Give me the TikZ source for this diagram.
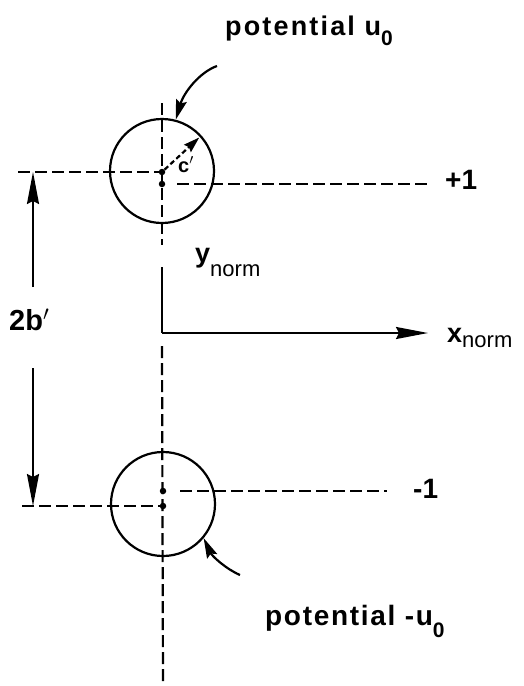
\documentclass[tikz,border=0pt]{standalone}
\usepackage{fontspec}
\setmainfont{Liberation Sans}
\usepackage{tikz}
\usetikzlibrary{arrows.meta}

\newcommand{\lowered}[3]{\raisebox{-#1pt}{\fontsize{#2}{#2}\selectfont #3}}

\begin{document}
\begin{tikzpicture}[x=1pt, y=-1pt,
    wire/.style={draw, circle, line width=2.2pt, minimum size=104pt, inner sep=0pt},
    guide/.style={line width=2.2pt, dash pattern=on 12pt off 5pt},
    axis/.style={line width=2.2pt},
    longarr/.style={-{Stealth[length=32pt,width=12pt,inset=3pt]}, line width=2pt},
    ptrarr/.style={-{Stealth[length=20pt,width=11pt,inset=3pt]}, line width=2.2pt},
    lbl/.style={anchor=base west, inner sep=0pt, font=\fontsize{28}{32}\selectfont\bfseries},
    dotmark/.style={circle, fill, inner sep=0pt, minimum size=6.5pt}
  ]
  \useasboundingbox (0,0) rectangle (523,686);

  \node[wire] (wireA) at (162,171) {};
  \node[wire] (wireB) at (163,504) {};
  \node[dotmark] (cA) at (162,172) {};
  \node[dotmark] (qA) at (162,184) {};
  \node[dotmark] (qB) at (163,491) {};
  \node[dotmark] (cB) at (163,506) {};

  \coordinate (ytop)   at (162,103);
  \coordinate (ygap)   at (162,245);
  \coordinate (yaxis)  at (162,267);
  \coordinate (origin) at (162,333);
  \coordinate (xtip)   at (428,333);
  \coordinate (ylow)   at (162,346);
  \coordinate (ybot)   at (163,686);
  \draw[guide] (ytop) -- (ygap);
  \draw[axis] (yaxis) -- (origin);
  \draw[longarr] (origin) -- (xtip);
  \draw[guide] (ylow) -- (ybot);

  \coordinate (leftA)  at (18,172);
  \coordinate (rightA) at (428,184);
  \coordinate (leftB)  at (22,506);
  \coordinate (rightB) at (387,491);
  \draw[guide] (leftA) -- (cA);
  \draw[guide, shorten <=12pt] (qA) -- (rightA);
  \draw[guide] (leftB) -- (cB);
  \draw[guide, shorten <=14pt] (qB) -- (rightB);

  \coordinate (bUp)      at (33,287);
  \coordinate (bUpTip)   at (33,172);
  \coordinate (bDown)    at (33,368);
  \coordinate (bDownTip) at (33,506);
  \draw[longarr] (bUp) -- (bUpTip);
  \draw[longarr] (bDown) -- (bDownTip);

  \draw[guide, dash pattern=on 5pt off 3pt, shorten >=3pt,
        -{Stealth[length=16pt,width=10pt,inset=2pt]}] (cA) -- (wireA.42);

  \node[lbl] (plus) at (445,189) {+1};
  \node[lbl] (minus) at (413,498) {-1};
  \node[lbl, font=\fontsize{29}{32}\selectfont\bfseries] (dist) at (9,330) {2b$'$};
  \node[lbl, font=\fontsize{27}{30}\selectfont\bfseries] (xlab) at (447,342)
    {x\lowered{5}{22}{\mdseries norm}};
  \node[lbl, font=\fontsize{27}{30}\selectfont\bfseries] (ylab) at (195,262)
    {y\lowered{14}{22}{\mdseries norm}};
  \node[lbl, font=\fontsize{20}{22}\selectfont\bfseries] (rlab) at (178,172) {c$'$};

  \node[lbl, font=\fontsize{27}{30}\selectfont\bfseries\addfontfeature{LetterSpace=8}]
    (potA) at (225,35) {potential u\lowered{10}{21}{0}};
  \node[lbl, font=\fontsize{28}{32}\selectfont\bfseries\addfontfeature{LetterSpace=6}]
    (potB) at (265,625) {potential -u\lowered{12}{21}{0}};

  \coordinate (potAtail) at (217,66);
  \coordinate (potBtail) at (240,575);
  \draw[ptrarr] (potAtail) .. controls (200,72) and (184,92) .. (wireA.75);
  \draw[ptrarr] (potBtail) .. controls (226,569) and (212,556) .. (wireB.-40);
\end{tikzpicture}
\end{document}
